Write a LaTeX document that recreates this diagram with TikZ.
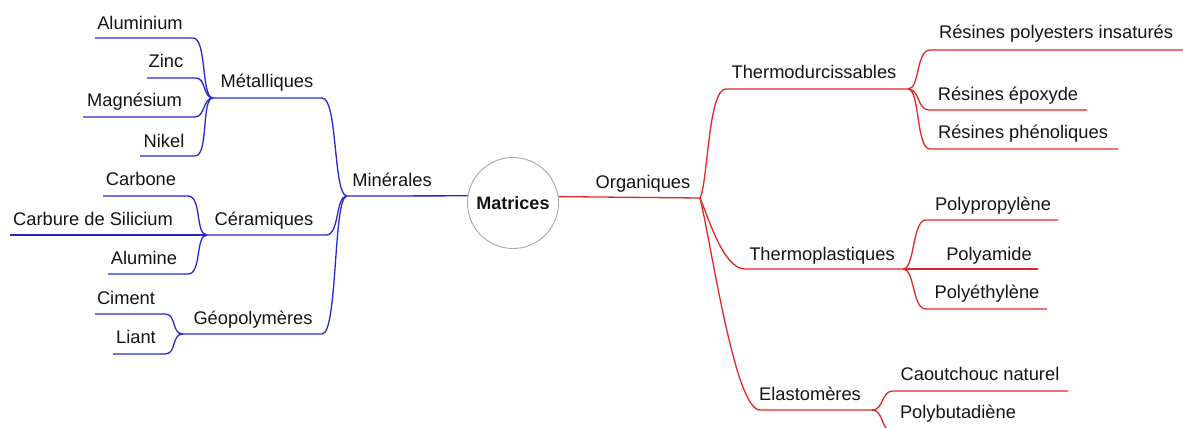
\documentclass[tikz,border=0pt]{standalone}
\usepackage{fontspec}
\setmainfont{Liberation Sans}
\definecolor{blueC}{RGB}{40,40,200}
\definecolor{redC}{RGB}{225,40,40}
\definecolor{txtC}{RGB}{20,20,20}
\begin{document}
\begin{tikzpicture}[x=1pt,y=-1pt,
  lbl/.style={font=\fontsize{18.3}{22}\selectfont, inner sep=0pt, anchor=base, text=txtC},
  bl/.style={draw=blueC, line width=1.3pt},
  rd/.style={draw=redC, line width=1.3pt}]
\useasboundingbox (0,0) rectangle (1183,428);
% centre
\node[circle, draw=gray!70, line width=0.9pt, minimum size=91pt, inner sep=0pt,
      font=\fontsize{18}{22}\selectfont\bfseries, text=txtC] (mat) at (513,203) {Matrices};
% junctions
\coordinate (jmin) at (347,196);
\coordinate (jmet) at (213,98);
\coordinate (jcer) at (207,235);
\coordinate (jgeo) at (183,334);
\coordinate (jorg) at (700,198);
\coordinate (jtd) at (908,89);
\coordinate (jtp) at (903,269);
\coordinate (jel) at (872,410);
% labels left
\node[lbl] (alu) at (140,30) {Aluminium};
\node[lbl] (zinc) at (166,67) {Zinc};
\node[lbl] (mag) at (134.5,106) {Magnésium};
\node[lbl] (nik) at (164,147) {Nikel};
\node[lbl] (met) at (267,87) {Métalliques};
\node[lbl] (min) at (392,186) {Minérales};
\node[lbl] (carb) at (141,185) {Carbone};
\node[lbl] (csic) at (93,225) {Carbure de Silicium};
\node[lbl] (cer) at (264,225) {Céramiques};
\node[lbl] (alum) at (144,264) {Alumine};
\node[lbl] (cim) at (126,304) {Ciment};
\node[lbl] (lia) at (136,343) {Liant};
\node[lbl] (geo) at (253,324) {Géopolymères};
% labels right
\node[lbl] (org) at (643,188) {Organiques};
\node[lbl] (td) at (814,78) {Thermodurcissables};
\node[lbl] (rpi) at (1056,39) {Résines polyesters insaturés};
\node[lbl] (rep) at (1008,100) {Résines époxyde};
\node[lbl] (rph) at (1023,138) {Résines phénoliques};
\node[lbl] (tp) at (822,260) {Thermoplastiques};
\node[lbl] (pp) at (993,210) {Polypropylène};
\node[lbl] (pa) at (989,260) {Polyamide};
\node[lbl] (pe) at (987,298) {Polyéthylène};
\node[lbl] (el) at (810,400) {Elastomères};
\node[lbl] (cn) at (980,380) {Caoutchouc naturel};
\node[lbl] (pb) at (958,418) {Polybutadiène};
% underline end points
\coordinate (aluB) at (193,38);  \coordinate (aluE) at (95,38);
\coordinate (zinB) at (196,78);  \coordinate (zinE) at (147,78);
\coordinate (magB) at (195,117); \coordinate (magE) at (83,117);
\coordinate (nikB) at (195,156); \coordinate (nikE) at (140,156);
\coordinate (carB) at (188,196); \coordinate (carE) at (103,196);
\coordinate (csiE) at (10,235);
\coordinate (almB) at (188,274); \coordinate (almE) at (108,274);
\coordinate (cimB) at (165,314); \coordinate (cimE) at (95,314);
\coordinate (liaB) at (165,354); \coordinate (liaE) at (113,354);
\coordinate (metB) at (322,98);
\coordinate (cerB) at (326,235);
\coordinate (geoB) at (322,334);
\coordinate (tdB) at (726,89);
\coordinate (tpB) at (745,269);
\coordinate (elB) at (760,410);
\coordinate (rpiB) at (930,50);  \coordinate (rpiE) at (1190,50);
\coordinate (repB) at (929,110); \coordinate (repE) at (1087,110);
\coordinate (rphB) at (930,149); \coordinate (rphE) at (1118,149);
\coordinate (ppB) at (926,220);  \coordinate (ppE) at (1058,220);
\coordinate (paE) at (1038,269);
\coordinate (peB) at (926,309);  \coordinate (peE) at (1047,309);
\coordinate (cnB) at (893,391);  \coordinate (cnE) at (1068,391);
\coordinate (pbB) at (893,432);  \coordinate (pbE) at (1015,432);
% blue connectors
\draw[bl] (mat.171) -- (jmin);
\draw[bl] (jmin) .. controls +(-14,0) and +(16,0) .. (metB) -- (jmet);
\draw[bl] (jmin) .. controls +(-12,0) and +(14,0) .. (cerB) -- (jcer);
\draw[bl] (jmin) .. controls +(-14,0) and +(16,0) .. (geoB) -- (jgeo);
\draw[bl] (jmet) .. controls +(-12,0) and +(14,0) .. (aluB) -- (aluE);
\draw[bl] (jmet) .. controls +(-10,0) and +(10,0) .. (zinB) -- (zinE);
\draw[bl] (jmet) .. controls +(-10,0) and +(10,0) .. (magB) -- (magE);
\draw[bl] (jmet) .. controls +(-12,0) and +(14,0) .. (nikB) -- (nikE);
\draw[bl] (jcer) .. controls +(-12,0) and +(14,0) .. (carB) -- (carE);
\draw[bl] (jcer) -- (csiE);
\draw[bl] (jcer) .. controls +(-12,0) and +(14,0) .. (almB) -- (almE);
\draw[bl] (jgeo) .. controls +(-12,0) and +(12,0) .. (cimB) -- (cimE);
\draw[bl] (jgeo) .. controls +(-12,0) and +(12,0) .. (liaB) -- (liaE);
% red connectors
\draw[rd] (mat.8) -- (jorg);
\draw[rd] (jorg) .. controls +(8,-15) and +(-18,0) .. (tdB) -- (jtd);
\draw[rd] (jorg) .. controls +(8,18) and +(-22,0) .. (tpB) -- (jtp);
\draw[rd] (jorg) .. controls +(12,50) and +(-25,0) .. (elB) -- (jel);
\draw[rd] (jtd) .. controls +(12,0) and +(-14,0) .. (rpiB) -- (rpiE);
\draw[rd] (jtd) .. controls +(12,0) and +(-12,0) .. (repB) -- (repE);
\draw[rd] (jtd) .. controls +(12,0) and +(-14,0) .. (rphB) -- (rphE);
\draw[rd] (jtp) .. controls +(12,0) and +(-14,0) .. (ppB) -- (ppE);
\draw[rd] (jtp) -- (paE);
\draw[rd] (jtp) .. controls +(12,0) and +(-14,0) .. (peB) -- (peE);
\draw[rd] (jel) .. controls +(12,0) and +(-12,0) .. (cnB) -- (cnE);
\draw[rd] (jel) .. controls +(12,0) and +(-12,0) .. (pbB) -- (pbE);
\end{tikzpicture}
\end{document}
